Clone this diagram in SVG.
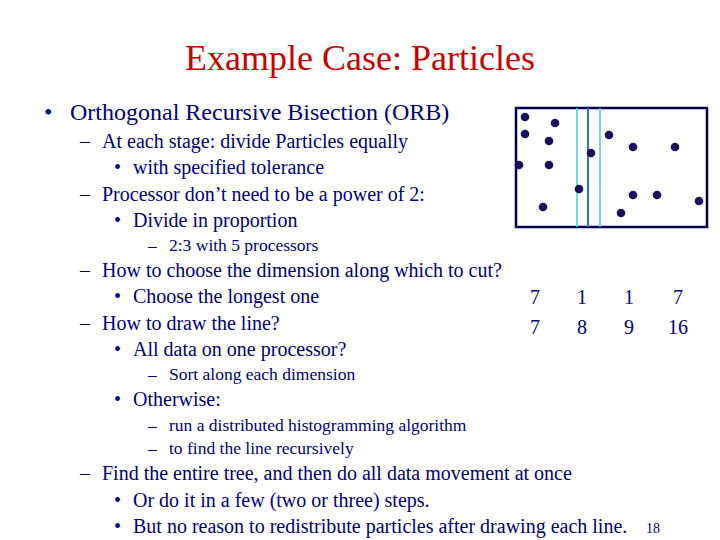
<svg xmlns="http://www.w3.org/2000/svg" width="720" height="540" viewBox="0 0 720 540">
<style>
text{font-family:"Liberation Serif",serif;fill:#000080}
.l1{font-size:24px}.l2{font-size:20px}.l3{font-size:17.5px}
.d{fill:#1a0f5c}
</style>
<rect width="720" height="540" fill="#fff"/>
<text x="360" y="70" text-anchor="middle" font-size="36" style="fill:#cc0000">Example Case: Particles</text>
<g class="l1"><text x="44" y="120">•</text><text x="70" y="120">Orthogonal Recursive Bisection (ORB)</text></g>
<g class="l2">
<text x="80" y="148">–</text><text x="102" y="148">At each stage: divide Particles equally</text>
<text x="114" y="174">•</text><text x="133" y="174">with specified tolerance</text>
<text x="80" y="201">–</text><text x="102" y="201">Processor don’t need to be a power of 2:</text>
<text x="114" y="227">•</text><text x="133" y="227">Divide in proportion</text>
<text x="80" y="277">–</text><text x="102" y="277">How to choose the dimension along which to cut?</text>
<text x="114" y="303">•</text><text x="133" y="303">Choose the longest one</text>
<text x="80" y="330">–</text><text x="102" y="330">How to draw the line?</text>
<text x="114" y="356">•</text><text x="133" y="356">All data on one processor?</text>
<text x="114" y="406">•</text><text x="133" y="406">Otherwise:</text>
<text x="80" y="480">–</text><text x="102" y="480">Find the entire tree, and then do all data movement at once</text>
<text x="114" y="507">•</text><text x="133" y="507">Or do it in a few (two or three) steps.</text>
<text x="114" y="533">•</text><text x="133" y="533">But no reason to redistribute particles after drawing each line.</text>
</g>
<g class="l3">
<text x="148" y="251">–</text><text x="169" y="251">2:3 with 5 processors</text>
<text x="148" y="380">–</text><text x="169" y="380">Sort along each dimension</text>
<text x="148" y="431">–</text><text x="169" y="431">run a distributed histogramming algorithm</text>
<text x="148" y="454">–</text><text x="169" y="454">to find the line recursively</text>
</g>
<text x="646" y="533" font-size="14">18</text>
<g class="l2" text-anchor="middle">
<text x="535" y="304">7</text><text x="582" y="304">1</text><text x="629" y="304">1</text><text x="678" y="304">7</text>
<text x="535" y="334">7</text><text x="582" y="334">8</text><text x="629" y="334">9</text><text x="678" y="334">16</text>
</g>
<g id="particles">
<rect x="516" y="108" width="191" height="119" fill="none" stroke="#000050" stroke-width="2.5"/>
<line x1="577" y1="108" x2="577" y2="227" stroke="#40d0e0" stroke-width="1.5"/>
<line x1="588" y1="108" x2="588" y2="227" stroke="#3070d0" stroke-width="2"/>
<line x1="600" y1="108" x2="600" y2="227" stroke="#40d0e0" stroke-width="1.5"/>
<g class="d">
<circle cx="525" cy="117" r="4.3"/><circle cx="555" cy="123" r="4.3"/><circle cx="525" cy="134" r="4.3"/>
<circle cx="549" cy="141" r="4.3"/><circle cx="609" cy="135" r="4.3"/><circle cx="633" cy="147" r="4.3"/>
<circle cx="675" cy="147" r="4.3"/><circle cx="591" cy="153" r="4.3"/><circle cx="519" cy="165" r="4.3"/>
<circle cx="549" cy="165" r="4.3"/><circle cx="579" cy="189" r="4.3"/><circle cx="633" cy="195" r="4.3"/>
<circle cx="657" cy="195" r="4.3"/><circle cx="699" cy="201" r="4.3"/><circle cx="543" cy="207" r="4.3"/>
<circle cx="621" cy="213" r="4.3"/>
</g>
</g>
</svg>
